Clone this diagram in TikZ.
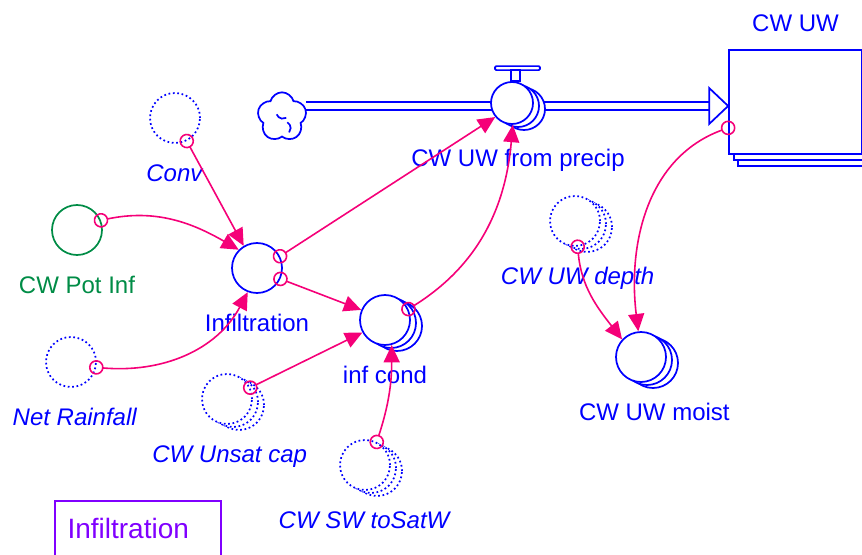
\documentclass[tikz,border=0pt]{standalone}
\usepackage{fontspec}
\setmainfont{Liberation Sans}
\usetikzlibrary{positioning,shapes.symbols,shadows,arrows.meta}
\definecolor{flowblue}{RGB}{0,0,255}
\definecolor{linkpink}{RGB}{245,0,120}
\definecolor{potgreen}{RGB}{0,140,70}
\definecolor{boxpurple}{RGB}{128,0,255}
\newcommand{\auxname}[1]{\textit{#1}}

\begin{document}
\begin{tikzpicture}[x=0.75pt, y=0.75pt, font=\fontsize{18}{21}\selectfont,
  var/.style={circle, draw=flowblue, line width=1.3pt, fill=white, minimum size=37.5pt, inner sep=0pt},
  aux/.style={var, dotted},
  multi/.style={copy shadow={shadow xshift=9pt, shadow yshift=-4.5pt, draw=flowblue, line width=1.3pt, fill=white},
                copy shadow={shadow xshift=4.5pt, shadow yshift=-2.25pt, draw=flowblue, line width=1.3pt, fill=white}},
  auxmulti/.style={copy shadow={shadow xshift=9pt, shadow yshift=-4.5pt, draw=flowblue, line width=1.3pt, fill=white, dotted},
                copy shadow={shadow xshift=4.5pt, shadow yshift=-2.25pt, draw=flowblue, line width=1.3pt, fill=white, dotted}},
  varname/.style={text=flowblue, inner sep=3pt, text height=0.72em, text depth=0.22em},
  stock/.style={rectangle, draw=flowblue, line width=1.3pt, fill=white, minimum width=99.75pt, minimum height=78pt,
                copy shadow={shadow xshift=7pt, shadow yshift=-9pt, draw=flowblue, line width=1.3pt, fill=white},
                copy shadow={shadow xshift=3.5pt, shadow yshift=-4.5pt, draw=flowblue, line width=1.3pt, fill=white}},
  flowline/.style={draw=flowblue, line width=1.3pt},
  pipe/.style={draw=flowblue, line width=1.4pt, double=white, double distance=4.5pt},
  link/.style={draw=linkpink, line width=1.2pt, shorten <=-5.5pt,
               {Circle[open,length=11pt]}-{Triangle[length=13pt,width=12pt]}},
  titlebox/.style={draw=boxpurple, text=boxpurple, line width=1.3pt, font=\fontsize{21}{24}\selectfont,
                   inner xsep=9.5pt, inner ysep=6.5pt, text height=22pt, text depth=30pt,
                   text width=105.5pt, align=left}]
  \clip (0,0) rectangle (862,554);

  \node[cloud, cloud puffs=5, aspect=1, draw=flowblue, line width=1.3pt, minimum width=37pt, minimum height=37pt, inner sep=0pt] (source) at (282,437) {};
  % curls inside the cloud
  \draw[flowline] ([shift={(-4pt,2pt)}]source.center) arc[start angle=200, end angle=300, radius=5pt];
  \draw[flowline] ([shift={(4pt,-4pt)}]source.center) arc[start angle=60, end angle=-40, radius=5pt];

  \node[stock] (uw) at (795.5,452) {};
  \node[varname, above=7.5pt of uw] (uwname) {CW UW};

  \coordinate (flowhead) at ([xshift=-14.25pt, yshift=-3pt]uw.west);
  \draw[pipe] (source.east |- flowhead) -- (flowhead);
  \draw[flowline, fill=white] ([yshift=13.5pt]flowhead) -- ([xshift=14.25pt]flowhead) -- ([yshift=-13.5pt]flowhead) -- cycle;

  \node[var, minimum size=31.5pt, multi] (precip) at (512,451) {};
  \node[varname, below=20.5pt of precip, xshift=4.5pt] (precipname) {CW UW from precip};
  \draw[flowline] ([xshift=-0.75pt]precip.north) rectangle ([xshift=6pt, yshift=8.25pt]precip.north);
  \draw[flowline, rounded corners=1pt] ([xshift=-12.75pt, yshift=8.25pt]precip.north) rectangle ([xshift=21pt, yshift=11.25pt]precip.north);

  \node[aux] (conv) at (175,436) {};
  \node[varname, below=17.5pt of conv] (convname) {\auxname{Conv}};

  \node[var, draw=potgreen] (potinf) at (77,324) {};
  \node[varname, text=potgreen, below=17.5pt of potinf] (potinfname) {CW Pot Inf};

  \node[var] (infil) at (257,286) {};
  \node[varname, below=17.5pt of infil] (infilname) {Infiltration};

  \node[aux] (netrain) at (71,192) {};
  \node[varname, below=17.5pt of netrain, xshift=3pt] (netrainname) {\auxname{Net Rainfall}};

  \node[var, multi] (infcond) at (385,234) {};
  \node[varname, below=17.5pt of infcond] (infcondname) {inf cond};

  \node[aux, auxmulti] (unsat) at (227,155) {};
  \node[varname, below=17.5pt of unsat, xshift=2pt] (unsatname) {\auxname{CW Unsat cap}};

  \node[aux, auxmulti] (swsat) at (365,89) {};
  \node[varname, below=17.5pt of swsat] (swsatname) {\auxname{CW SW toSatW}};

  \node[aux, auxmulti] (depth) at (575,333) {};
  \node[varname, below=17.5pt of depth, xshift=2pt] (depthname) {\auxname{CW UW depth}};

  \node[var, multi] (moist) at (641,197) {};
  \node[varname, below=17.5pt of moist, xshift=10pt] (moistname) {CW UW moist};

  \node[titlebox, anchor=north west] (title) at (54,54) {Infiltration};

  \draw[link] (conv.297) -- (infil.121);
  \draw[link] (potinf.22) to[out=12,in=150] (infil.135);
  \draw[link] (netrain.348) to[out=-5,in=242] (infil.249);
  \draw[link] (infil.27) -- (precip.220);
  \draw[link] (infil.335) -- (infcond.157);
  \draw[link] (unsat.26) -- (infcond.209);
  \draw[link] (swsat.63) to[out=72,in=270] (infcond.285);
  \draw[link] (infcond.25) to[out=32,in=265] (precip.272);
  \draw[link] (depth.276) to[out=-85,in=128] (moist.137);
  \draw[link] (uw.201) to[out=200,in=97] (moist.96);
\end{tikzpicture}
\end{document}
